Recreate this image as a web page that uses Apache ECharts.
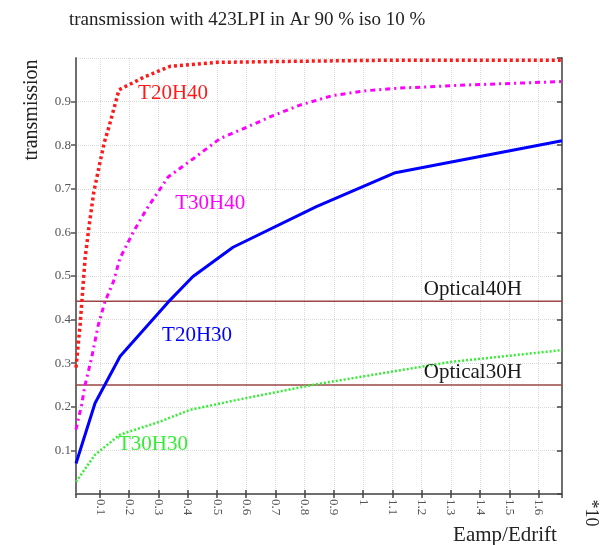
<!DOCTYPE html>
<html>
<head>
<meta charset="utf-8">
<script src="https://cdn.jsdelivr.net/npm/echarts@6/dist/echarts.min.js"></script>
<style>
  html, body { margin: 0; padding: 0; background: #fff; }
  #chart { width: 611px; height: 545px; }
</style>
</head>
<body>
<div id="chart"></div>
<script>
// axis range (x is Eamp/Edrift scaled by 1/10)
const xMin = 0.018;
const xMax = 1.68;

// T20H40 (red dotted)
const t20h40X = [0.018, 0.032, 0.049, 0.063, 0.079, 0.098, 0.115, 0.132, 0.165, 0.25, 0.34, 0.5, 0.833, 1.111, 1.68];
const t20h40Y = [0.29, 0.387, 0.54, 0.616, 0.693, 0.754, 0.807, 0.845, 0.927, 0.956, 0.981, 0.99, 0.993, 0.995, 0.995];

// T30H40 (magenta dash-dot)
const t30h40X = [0.018, 0.037, 0.049, 0.071, 0.094, 0.117, 0.146, 0.168, 0.214, 0.26, 0.333, 0.419, 0.51, 0.601, 0.692, 0.784, 0.897, 1.01, 1.126, 1.354, 1.68];
const t30h40Y = [0.148, 0.204, 0.25, 0.311, 0.387, 0.441, 0.487, 0.54, 0.601, 0.654, 0.727, 0.769, 0.815, 0.841, 0.868, 0.892, 0.914, 0.925, 0.931, 0.938, 0.946];

// T20H30 (blue solid)
const t20h30X = [0.018, 0.083, 0.169, 0.333, 0.418, 0.555, 0.84, 1.11, 1.68];
const t20h30Y = [0.07, 0.208, 0.316, 0.44, 0.499, 0.566, 0.659, 0.737, 0.81];

// T30H30 (green dotted)
const t30h30X = [0.018, 0.083, 0.168, 0.305, 0.408, 0.556, 0.833, 1.111, 1.3, 1.68];
const t30h30Y = [0.028, 0.09, 0.136, 0.166, 0.193, 0.214, 0.251, 0.282, 0.303, 0.33];

// optical transparency reference lines
const opticalNames = ["Optical40H", "Optical30H"];
const opticalValues = [0.442, 0.25];

// curve label anchors (data space)
const curveNames = ["T20H40", "T30H40", "T20H30", "T30H30"];
const curveLabelX = [0.35, 0.477, 0.432, 0.281];
const curveLabelY = [0.918, 0.666, 0.364, 0.114];
const opticalLabelX = 1.375;
const opticalLabelY = [0.468, 0.278];

const serif = "Liberation Serif";
const frameColor = "#6e6e6e";
const gridColor = "#d9d9d9";

const zip = (xs, ys) => xs.map((x, i) => [x, ys[i]]);

const curveStyle = [
  { color: "#ff1a1a", width: 3.5, type: [3, 3] },
  { color: "#ff00ff", width: 3, type: [5, 4, 2, 4] },
  { color: "#0000ff", width: 3, type: "solid" },
  { color: "#33ee33", width: 2.5, type: [2, 2] },
];
const curveData = [
  zip(t20h40X, t20h40Y),
  zip(t30h40X, t30h40Y),
  zip(t20h30X, t20h30Y),
  zip(t30h30X, t30h30Y),
];

const labelFont = {
  fontFamily: serif,
  fontSize: 21,
};

const chart = echarts.init(document.getElementById("chart"));

const series = [];

// optical lines first so curves draw over them
opticalNames.forEach((name, i) => {
  series.push({
    name: name,
    type: "line",
    data: [[xMin, opticalValues[i]], [xMax, opticalValues[i]]],
    symbol: "none",
    silent: true,
    lineStyle: { color: "#9c4646", width: 1.6 },
    markPoint: {
      symbol: "circle",
      symbolSize: 0,
      data: [{ coord: [opticalLabelX, opticalLabelY[i]] }],
      label: {
        show: true,
        position: "inside",
        formatter: name,
        color: "#1a1a1a",
        ...labelFont,
      },
    },
  });
});

curveNames.forEach((name, i) => {
  series.push({
    name: name,
    type: "line",
    data: curveData[i],
    symbol: "none",
    silent: true,
    lineStyle: curveStyle[i],
    itemStyle: { color: curveStyle[i].color },
    markPoint: {
      symbol: "circle",
      symbolSize: 0,
      data: [{ coord: [curveLabelX[i], curveLabelY[i]] }],
      label: {
        show: true,
        position: "inside",
        formatter: name,
        color: curveStyle[i].color,
        ...labelFont,
      },
    },
  });
});

const option = {
  animation: false,
  title: {
    text: "transmission with 423LPI in Ar 90 % iso 10 %",
    left: 64,
    top: 6,
    textStyle: {
      fontFamily: serif,
      fontSize: 19,
      fontWeight: "normal",
      color: "#222",
    },
  },
  grid: {
    left: 76,
    right: 49,
    top: 58,
    bottom: 51,
  },
  xAxis: [
    {
      type: "value",
      position: "bottom",
      min: xMin,
      max: xMax,
      splitNumber: 16,
      axisLine: { show: true, lineStyle: { color: frameColor, width: 2 } },
      axisTick: { show: true, inside: true, length: 4, lineStyle: { color: "#444", width: 1.5 } },
      axisLabel: {
        rotate: -90,
        showMinLabel: false,
        showMaxLabel: false,
        margin: 5,
        fontFamily: serif,
        fontSize: 13,
        color: "#555",
      },
      splitLine: { show: true, lineStyle: { color: gridColor, type: "dotted", width: 1 } },
    },
    {
      type: "value",
      position: "top",
      min: xMin,
      max: xMax,
      splitNumber: 16,
      axisLine: { show: true, lineStyle: { color: frameColor, width: 2 } },
      axisTick: { show: true, inside: true, length: 4, lineStyle: { color: "#444", width: 1.5 } },
      axisLabel: { show: false },
      splitLine: { show: false },
    },
  ],
  yAxis: [
    {
      type: "value",
      position: "left",
      min: 0,
      max: 1,
      interval: 0.1,
      axisLine: { show: true, lineStyle: { color: frameColor, width: 2 } },
      axisTick: { show: true, inside: false, length: 5, lineStyle: { color: "#555", width: 1.5 } },
      axisLabel: {
        showMinLabel: false,
        showMaxLabel: false,
        margin: 5,
        fontFamily: serif,
        fontSize: 13,
        color: "#555",
      },
      splitLine: { show: true, lineStyle: { color: gridColor, type: "dotted", width: 1 } },
    },
    {
      type: "value",
      position: "right",
      min: 0,
      max: 1,
      interval: 0.1,
      axisLine: { show: true, lineStyle: { color: frameColor, width: 2 } },
      axisTick: { show: true, inside: true, length: 5, lineStyle: { color: "#444", width: 1.5 } },
      axisLabel: { show: false },
      splitLine: { show: false },
    },
  ],
  graphic: [
    {
      type: "text",
      x: 32,
      y: 110,
      rotation: Math.PI / 2,
      style: {
        text: "transmission",
        align: "center",
        verticalAlign: "middle",
        font: "20px 'Liberation Serif'",
        fill: "#222",
      },
    },
    {
      type: "text",
      x: 505,
      y: 535,
      style: {
        text: "Eamp/Edrift",
        align: "center",
        verticalAlign: "middle",
        font: "21px 'Liberation Serif'",
        fill: "#222",
      },
    },
    {
      type: "text",
      x: 591,
      y: 513,
      rotation: -Math.PI / 2,
      style: {
        text: "*10",
        align: "center",
        verticalAlign: "middle",
        font: "18px 'Liberation Serif'",
        fill: "#222",
      },
    },
  ],
  series: series,
};

chart.setOption(option);
</script>
</body>
</html>
